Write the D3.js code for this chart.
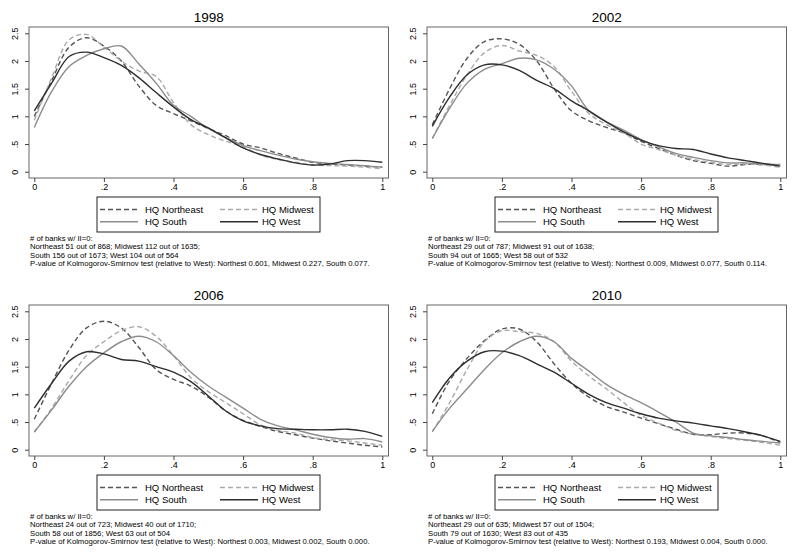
<!DOCTYPE html>
<head>
  <meta charset="utf-8">
  <title>Kernel densities by HQ region</title>
  <script src="https://d3js.org/d3.v7.min.js"></script>
  <style>
    body { margin: 0; background: #fff; }
    svg text { font-family: "Liberation Sans", Arial, sans-serif; fill: #000; }
    .axis text { font-size: 9px; }
    .axis line { stroke: #444; }
  </style>
</head>
<body>
<script type="text/javascript">

// chart values
var years = ["1998", "2002", "2006", "2010"];
var regions = ["HQ Northeast", "HQ Midwest", "HQ South", "HQ West"];
var xGrid = [0, .05, .1, .15, .2, .25, .3, .35, .4, .45, .5, .55, .6, .65, .7, .75, .8, .85, .9, .95, 1];
var xTicks = [0, .2, .4, .6, .8, 1];
var yTicks = [0, .5, 1, 1.5, 2, 2.5];

var ne1998 = [1.0, 1.65, 2.25, 2.42, 2.27, 2.0, 1.55, 1.2, 1.05, 0.92, 0.78, 0.65, 0.5, 0.43, 0.33, 0.25, 0.17, 0.14, 0.12, 0.1, 0.08];
var mw1998 = [0.93, 1.7, 2.38, 2.48, 2.25, 2.0, 1.82, 1.72, 1.25, 0.85, 0.67, 0.55, 0.45, 0.3, 0.22, 0.17, 0.12, 0.11, 0.1, 0.08, 0.05];
var so1998 = [0.8, 1.45, 1.9, 2.1, 2.22, 2.27, 1.95, 1.6, 1.2, 1.0, 0.78, 0.62, 0.47, 0.38, 0.3, 0.23, 0.18, 0.15, 0.13, 0.11, 0.08];
var we1998 = [1.1, 1.6, 2.08, 2.16, 2.06, 1.92, 1.7, 1.43, 1.17, 0.94, 0.79, 0.61, 0.43, 0.31, 0.23, 0.16, 0.12, 0.14, 0.2, 0.2, 0.17];

var ne2002 = [0.85, 1.5, 2.05, 2.35, 2.4, 2.3, 2.0, 1.5, 1.1, 0.92, 0.8, 0.7, 0.55, 0.42, 0.3, 0.2, 0.15, 0.1, 0.13, 0.13, 0.12];
var mw2002 = [0.6, 1.2, 1.75, 2.15, 2.28, 2.18, 2.1, 1.9, 1.45, 1.05, 0.85, 0.7, 0.5, 0.4, 0.3, 0.22, 0.17, 0.13, 0.14, 0.12, 0.08];
var so2002 = [0.6, 1.15, 1.6, 1.85, 1.95, 2.05, 2.02, 1.85, 1.55, 1.1, 0.9, 0.75, 0.58, 0.45, 0.33, 0.26, 0.2, 0.16, 0.16, 0.14, 0.13];
var we2002 = [0.82, 1.35, 1.75, 1.93, 1.93, 1.83, 1.65, 1.5, 1.28, 1.1, 0.9, 0.72, 0.57, 0.47, 0.42, 0.4, 0.32, 0.25, 0.2, 0.15, 0.1];

var ne2006 = [0.55, 1.2, 1.8, 2.2, 2.32, 2.2, 1.85, 1.45, 1.27, 1.15, 0.95, 0.7, 0.53, 0.42, 0.33, 0.27, 0.21, 0.16, 0.12, 0.08, 0.05];
var mw2006 = [0.32, 0.75, 1.25, 1.7, 1.95, 2.15, 2.22, 2.05, 1.7, 1.3, 1.05, 0.85, 0.65, 0.45, 0.35, 0.3, 0.22, 0.18, 0.16, 0.12, 0.08];
var so2006 = [0.32, 0.72, 1.15, 1.5, 1.75, 1.95, 2.05, 1.95, 1.7, 1.4, 1.15, 0.95, 0.75, 0.55, 0.43, 0.36, 0.28, 0.22, 0.19, 0.2, 0.14];
var we2006 = [0.75, 1.2, 1.6, 1.77, 1.73, 1.63, 1.6, 1.5, 1.4, 1.23, 0.97, 0.7, 0.52, 0.43, 0.38, 0.37, 0.36, 0.36, 0.37, 0.33, 0.24];

var ne2010 = [0.65, 1.25, 1.65, 1.97, 2.18, 2.18, 1.95, 1.55, 1.2, 0.95, 0.78, 0.68, 0.57, 0.47, 0.37, 0.28, 0.27, 0.3, 0.3, 0.25, 0.13];
var mw2010 = [0.32, 0.85, 1.45, 1.95, 2.15, 2.13, 2.1, 1.95, 1.6, 1.33, 1.1, 0.85, 0.62, 0.48, 0.35, 0.28, 0.24, 0.2, 0.17, 0.13, 0.08];
var so2010 = [0.33, 0.75, 1.1, 1.45, 1.75, 1.95, 2.05, 1.95, 1.65, 1.42, 1.18, 1.0, 0.85, 0.68, 0.5, 0.3, 0.25, 0.22, 0.18, 0.15, 0.12];
var we2010 = [0.85, 1.3, 1.6, 1.77, 1.78, 1.7, 1.55, 1.4, 1.2, 1.0, 0.85, 0.75, 0.65, 0.57, 0.52, 0.48, 0.43, 0.38, 0.32, 0.25, 0.15];

var notes1998 = ["# of banks w/ II=0:", "Northeast 51 out of 868; Midwest 112 out of 1635;", "South 156 out of 1673; West 104 out of 564",
  "P-value of Kolmogorov-Smirnov test (relative to West): Northest 0.601, Midwest 0.227, South 0.077."];
var notes2002 = ["# of banks w/ II=0:", "Northeast 29 out of 787; Midwest 91 out of 1638;", "South 94 out of 1665; West 58 out of 532",
  "P-value of Kolmogorov-Smirnov test (relative to West): Northest 0.009, Midwest 0.077, South 0.114."];
var notes2006 = ["# of banks w/ II=0:", "Northeast 24 out of 723; Midwest 40 out of 1710;", "South 58 out of 1856; West 63 out of 504",
  "P-value of Kolmogorov-Smirnov test (relative to West): Northest 0.003, Midwest 0.002, South 0.000."];
var notes2010 = ["# of banks w/ II=0:", "Northeast 29 out of 635; Midwest 57 out of 1504;", "South 79 out of 1630; West 83 out of 435",
  "P-value of Kolmogorov-Smirnov test (relative to West): Northest 0.193, Midwest 0.004, South 0.000."];

var series = {
  "1998": [ne1998, mw1998, so1998, we1998],
  "2002": [ne2002, mw2002, so2002, we2002],
  "2006": [ne2006, mw2006, so2006, we2006],
  "2010": [ne2010, mw2010, so2010, we2010]
};
var notes = { "1998": notes1998, "2002": notes2002, "2006": notes2006, "2010": notes2010 };

// line styles per region
var colors = ["#555555", "#aaaaaa", "#8c8c8c", "#2e2e2e"];
var dashes = ["5,3", "5,3", null, null];

var w = 797, h = 558;
var svg = d3.select("body").append("svg")
  .attr("width", w)
  .attr("height", h);

// panel geometry (local coords)
var frame = { left: 29, right: 388.5, top: 27, bottom: 178 };
var offsets = [[0, 0], [398, 0], [0, 278], [398, 278]];

var xScale = d3.scaleLinear().domain([0, 1]).range([34.3, 382.3]);
var yScale = d3.scaleLinear().domain([0, 2.5]).range([171.7, 33.3]);

function stataFmt(d) {
  return String(d).replace(/^0\./, ".");
}

var line = d3.line()
  .x(function(d) { return xScale(d[0]); })
  .y(function(d) { return yScale(d[1]); })
  .curve(d3.curveCatmullRom.alpha(0.5));

years.forEach(function(yr, i) {
  var g = svg.append("g")
    .attr("transform", "translate(" + offsets[i][0] + "," + offsets[i][1] + ")");

  // title
  g.append("text")
    .attr("x", (frame.left + frame.right) / 2)
    .attr("y", 22)
    .attr("text-anchor", "middle")
    .attr("font-size", "13.5px")
    .text(yr);

  // plot frame
  g.append("rect")
    .attr("x", frame.left)
    .attr("y", frame.top)
    .attr("width", frame.right - frame.left)
    .attr("height", frame.bottom - frame.top)
    .attr("fill", "none")
    .attr("stroke", "#666")
    .attr("stroke-width", 1);

  // curves
  series[yr].forEach(function(vals, k) {
    var pts = xGrid.map(function(x, j) { return [x, vals[j]]; });
    g.append("path")
      .datum(pts)
      .attr("d", line)
      .attr("fill", "none")
      .attr("stroke", colors[k])
      .attr("stroke-width", 1.4)
      .attr("stroke-dasharray", dashes[k]);
  });

  // x axis
  var xAxis = d3.axisBottom(xScale)
    .tickValues(xTicks)
    .tickFormat(stataFmt)
    .tickSize(4)
    .tickPadding(2);
  var gx = g.append("g")
    .attr("class", "axis")
    .attr("transform", "translate(0," + frame.bottom + ")")
    .call(xAxis);
  gx.select(".domain").remove();

  // y axis, labels rotated like Stata
  var yAxis = d3.axisLeft(yScale)
    .tickValues(yTicks)
    .tickFormat(stataFmt)
    .tickSize(4)
    .tickPadding(3);
  var gy = g.append("g")
    .attr("class", "axis")
    .attr("transform", "translate(" + frame.left + ",0)")
    .call(yAxis);
  gy.select(".domain").remove();
  gy.selectAll(".tick text")
    .attr("x", null)
    .attr("dy", null)
    .attr("text-anchor", "middle")
    .attr("transform", "translate(-11,0) rotate(-90)")
    .attr("y", 0);

  // legend
  var lg = g.append("g");
  lg.append("rect")
    .attr("x", 97)
    .attr("y", 197)
    .attr("width", 223)
    .attr("height", 35)
    .attr("fill", "#fff")
    .attr("stroke", "#222")
    .attr("stroke-width", 1);
  regions.forEach(function(name, k) {
    var col = k % 2, row = Math.floor(k / 2);
    var lx = 100 + col * 120, ly = 209.5 + row * 12.3;
    lg.append("line")
      .attr("x1", lx).attr("x2", lx + 38)
      .attr("y1", ly).attr("y2", ly)
      .attr("stroke", colors[k])
      .attr("stroke-width", 1.4)
      .attr("stroke-dasharray", dashes[k]);
    lg.append("text")
      .attr("x", lx + 45 + col * -3)
      .attr("y", ly + 3.4)
      .attr("font-size", "9.5px")
      .text(name);
  });

  // notes under the legend
  g.selectAll(".note")
    .data(notes[yr])
    .enter()
    .append("text")
    .attr("class", "note")
    .attr("x", 30)
    .attr("y", function(d, j) { return 241 + j * 8.3; })
    .attr("font-size", "7.7px")
    .text(function(d) { return d; });
});

</script>
</body>
</html>
